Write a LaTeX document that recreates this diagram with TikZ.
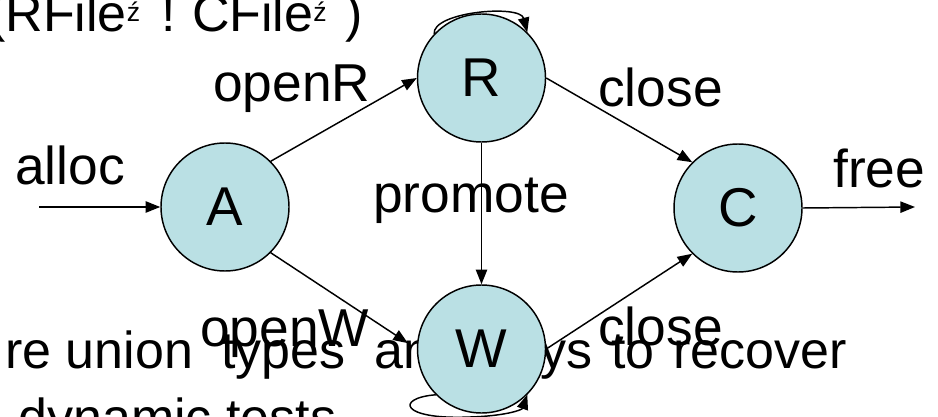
\documentclass[tikz,border=0pt]{standalone}
\usepackage{fontspec}
\setmainfont{Liberation Sans}
\usetikzlibrary{arrows.meta}
\definecolor{statefill}{RGB}{186,224,228}
\newcommand\supz{\raisebox{8pt}{\fontsize{20}{20}\selectfont ź}}
\begin{document}
\begin{tikzpicture}[x=0.75pt,y=-0.75pt,
  state/.style={circle,draw=black,line width=1.1pt,fill=statefill,minimum size=96pt,inner sep=0pt,font=\fontsize{41}{48}\selectfont},
  lab/.style={anchor=base west,inner sep=0pt,font=\fontsize{40}{47}\selectfont},
  body/.style={inner sep=0pt,font=\fontsize{39}{46}\selectfont},
  edge/.style={line width=1.1pt,-{Triangle[length=11pt,width=8.5pt]}},
]
\useasboundingbox (0,0) rectangle (938,417);
\clip (0,0) rectangle (938,417);
% background text
\node[body,anchor=base west] (b1) at (5,368) {re union\hspace{21pt}types\hspace{22pt}an};
\node[body,anchor=base east] (b2) at (847,368) {ys\hspace{14pt}to\hspace{14pt}recover};
\node[body,anchor=base west] (b3) at (18,435) {dynamic tests};
\node[lab,font=\fontsize{39}{46}\selectfont] (title) at (-12,32) {(RFile\supz\hspace{16pt}!\hspace{12pt}CFile\supz\hspace{14pt})};
% states
\node[state] (A) at (225,207) {A};
\node[state] (R) at (481.5,78) {R};
\node[state] (W) at (481.5,349) {W};
\node[state] (C) at (738,208) {C};
\coordinate (in) at (39,207);
\coordinate (out) at (915,207);
% edges
\draw[edge] (in) -- (A.west);
\draw[edge] (C.east) -- (out);
\draw[edge] (A.45) -- (R.180);
\draw[edge] (R.east) -- (C.135);
\draw[edge] (R.south) -- (W.north);
\draw[edge,shorten >=8pt] (A.-45) -- (W.west);
\draw[edge] (W.east) -- (C.225);
\draw[edge] (R.137) .. controls (432,12) and (520,4) .. (R.45);
\draw[edge] (W.225) .. controls (395,398) and (400,420) .. (470,417) .. controls (505,416) and (522,410) .. (W.315);
% labels
\node[lab] (openR) at (213,102) {openR};
\node[lab] (alloc) at (15,185) {alloc};
\node[lab] (promote) at (373,212) {promote};
\node[lab] (close1) at (598,107) {close};
\node[lab] (free) at (833,187) {free};
\node[lab] (openW) at (200,346) {openW};
\node[lab] (close2) at (598,345) {close};
\end{tikzpicture}
\end{document}
